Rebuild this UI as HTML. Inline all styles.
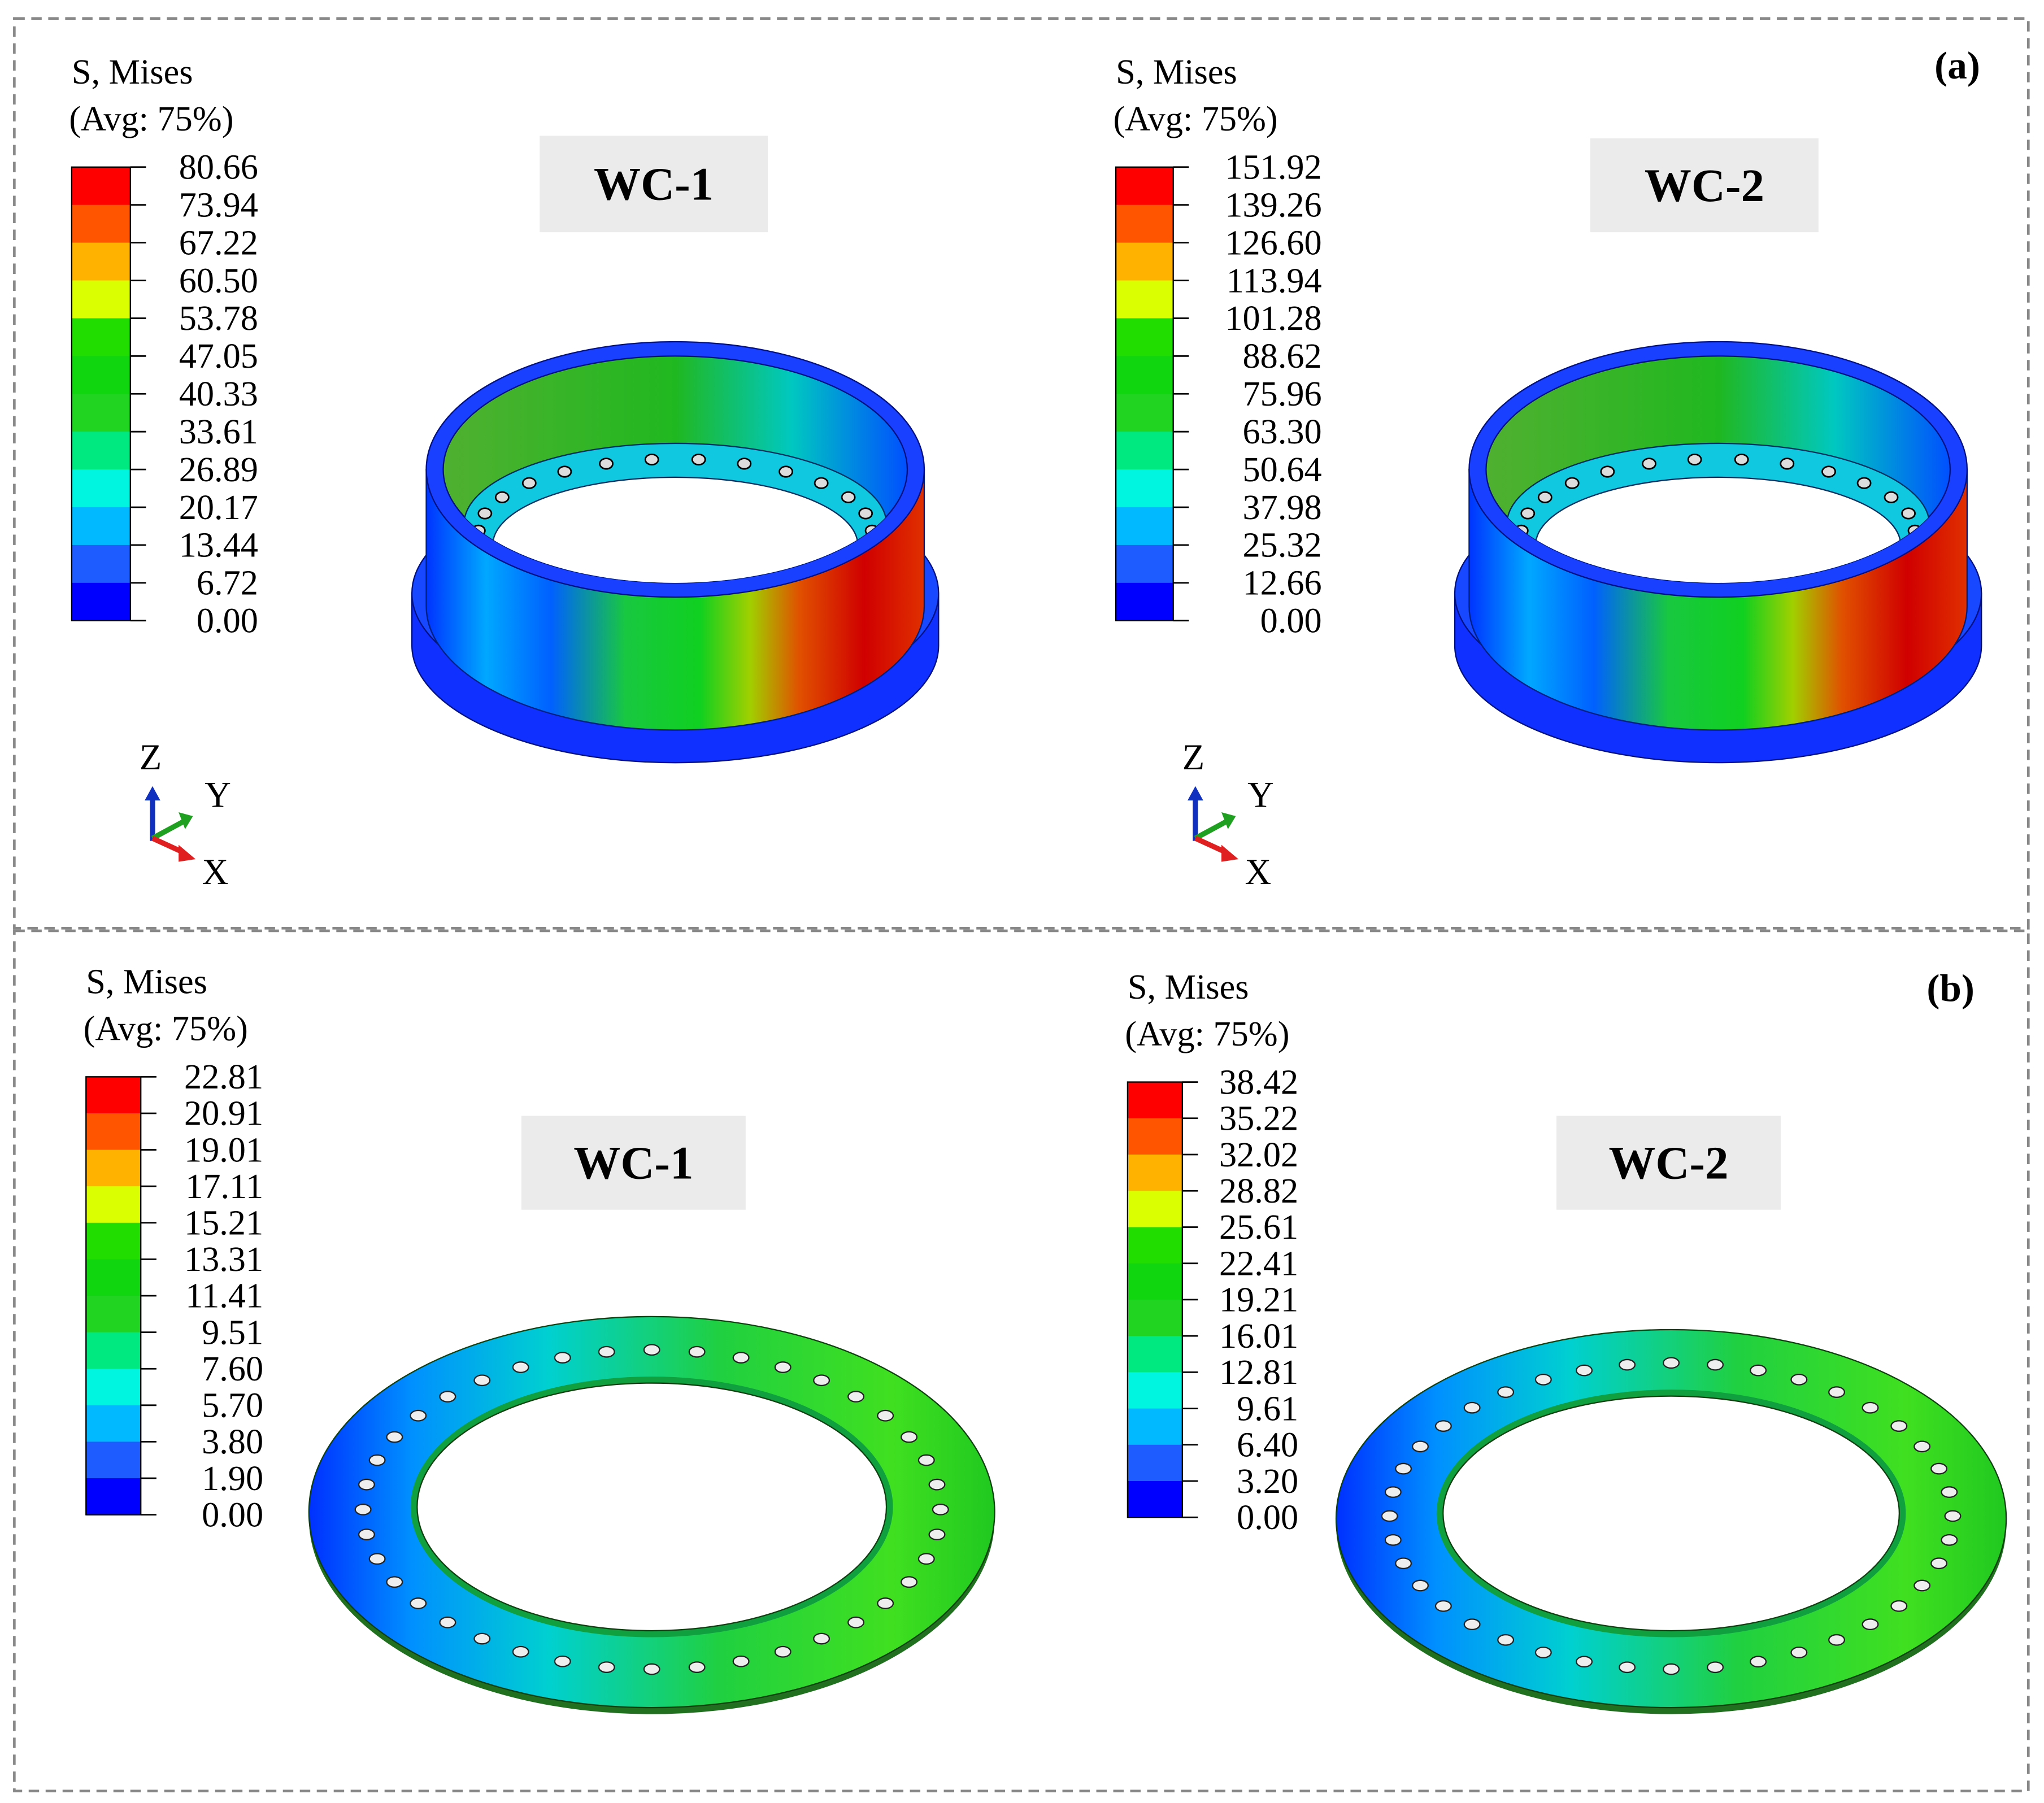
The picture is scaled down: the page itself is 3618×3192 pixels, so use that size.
<!DOCTYPE html>
<html><head><meta charset="utf-8"><style>
html,body{margin:0;padding:0;background:#fff}
svg{display:block}
text{font-family:"Liberation Serif",serif}
</style></head><body>
<svg id="fig" width="3618" height="3192" viewBox="0 0 1568 1383" xmlns="http://www.w3.org/2000/svg">
<defs>
<linearGradient id="cyl" x1="0" x2="1" y1="0" y2="0">
<stop offset="0" stop-color="#0033ff"/><stop offset="0.12" stop-color="#00a8ff"/><stop offset="0.25" stop-color="#0060ff"/><stop offset="0.4" stop-color="#18c840"/><stop offset="0.55" stop-color="#10d020"/><stop offset="0.65" stop-color="#a0d000"/><stop offset="0.75" stop-color="#e05000"/><stop offset="0.88" stop-color="#d00000"/><stop offset="1" stop-color="#e03000"/>
</linearGradient>
<linearGradient id="inner" x1="0" x2="1" y1="0" y2="0">
<stop offset="0" stop-color="#50b030"/><stop offset="0.5" stop-color="#20b820"/><stop offset="0.75" stop-color="#00c8c0"/><stop offset="1" stop-color="#0050ff"/>
</linearGradient>
<linearGradient id="plate" x1="0" x2="1" y1="0" y2="0">
<stop offset="0" stop-color="#0030ff"/><stop offset="0.15" stop-color="#0090ff"/><stop offset="0.35" stop-color="#00d0d0"/><stop offset="0.6" stop-color="#20d040"/><stop offset="0.85" stop-color="#40e020"/><stop offset="1" stop-color="#20c820"/>
</linearGradient>
<clipPath id="clip1"><ellipse cx="518" cy="360" rx="178" ry="87"/></clipPath>
<clipPath id="clip2"><ellipse cx="1318" cy="360" rx="178" ry="87"/></clipPath>
</defs>
<rect x="11" y="14" width="1545" height="698" fill="none" stroke="#888" stroke-width="2" stroke-dasharray="8,5"/>
<rect x="11" y="714" width="1545" height="660" fill="none" stroke="#888" stroke-width="2" stroke-dasharray="8,5"/>
<text x="1484" y="60" font-size="30" font-weight="bold">(a)</text>
<text x="1478" y="768" font-size="30" font-weight="bold">(b)</text>
<g id="legends"></g>
<g id="shapes"></g>
</svg>
<script>
const legendA1 = ["80.66","73.94","67.22","60.50","53.78","47.05","40.33","33.61","26.89","20.17","13.44","6.72","0.00"];
const legendA2 = ["151.92","139.26","126.60","113.94","101.28","88.62","75.96","63.30","50.64","37.98","25.32","12.66","0.00"];
const legendB1 = ["22.81","20.91","19.01","17.11","15.21","13.31","11.41","9.51","7.60","5.70","3.80","1.90","0.00"];
const legendB2 = ["38.42","35.22","32.02","28.82","25.61","22.41","19.21","16.01","12.81","9.61","6.40","3.20","0.00"];
const bandColors = ["#FF0000","#FF5500","#FFB300","#D9FF00","#22DD00","#10D610","#22D422","#00E880","#00F5E0","#00B9FF","#1E5CFF","#0000FF"];
const NS="http://www.w3.org/2000/svg";
function mk(tag,attrs,parent){const e=document.createElementNS(NS,tag);for(const k in attrs)e.setAttribute(k,attrs[k]);parent.appendChild(e);return e;}
const L=document.getElementById('legends');
function legend(vals,x,top,bottom,lx,tx,name){
  const g=mk('g',{},L);
  
  
  const t1=mk('text',{x:x,y:top-64,'font-size':27},g);t1.textContent="S, Mises";
  
  
  const t2=mk('text',{x:x-2,y:top-28,'font-size':27},g);t2.textContent="(Avg: 75%)";
  
  
  const n=vals.length-1, step=(bottom-top)/n;
  for(let i=0;i<n;i++){
    const r=mk('rect',{x:x,y:top+i*step,width:lx-x,height:step+0.5,fill:bandColors[i]},g);
    
    
  }
  mk('rect',{x:x,y:top,width:lx-x,height:bottom-top,fill:'none',stroke:'#000','stroke-width':1},g);
  for(let i=0;i<=n;i++){
    const y=top+i*step;
    mk('line',{x1:lx,x2:lx+12,y1:y,y2:y,stroke:'#000','stroke-width':1.2},g);
    const t=mk('text',{x:tx,y:y+9,'font-size':27,'text-anchor':'end'},g);t.textContent=vals[i];
    
    
  }
}
legend(legendA1,55,128,476,100,198,'legend-a-wc1');
legend(legendA2,856,128,476,900,1014,'legend-a-wc2');
legend(legendB1,66,826,1162,108,202,'legend-b-wc1');
legend(legendB2,865,830,1164,907,996,'legend-b-wc2');

const S=document.getElementById('shapes');
function label(txt,x,y,w,h,name){
  const r=mk('rect',{x:x,y:y,width:w,height:h,fill:'#ebebeb'},S);
  
  
  const t=mk('text',{x:x+w/2,y:y+h/2+12,'font-size':36,'font-weight':'bold','text-anchor':'middle'},S);t.textContent=txt;
  
  
}
label("WC-1",414,104,175,74,'wc1-label-a');
label("WC-2",1220,106,175,72,'wc2-label-a');
label("WC-1",400,856,172,72,'wc1-label-b');
label("WC-2",1194,856,172,72,'wc2-label-b');

function cylinder(cx,clip,name){
  const g=mk('g',{},S);
  
  
  mk('path',{d:`M${cx-202},${455} L${cx-202},${495} A202,90 0 0 0 ${cx+202},495 L${cx+202},455 Z`,fill:'#1030ff',stroke:'#001080','stroke-width':1},g);
  mk('ellipse',{cx:cx,cy:455,rx:202,ry:90,fill:'#1848ff',stroke:'#001080','stroke-width':1},g);
  mk('path',{d:`M${cx-191},360 L${cx-191},465 A191,95 0 0 0 ${cx+191},465 L${cx+191},360 Z`,fill:'url(#cyl)',stroke:'#002080','stroke-width':1},g);
  mk('ellipse',{cx:cx,cy:360,rx:191,ry:98,fill:'#1a40ff',stroke:'#001080','stroke-width':1},g);
  mk('ellipse',{cx:cx,cy:360,rx:178,ry:87,fill:'url(#inner)',stroke:'#001080','stroke-width':1},g);
  const c=mk('g',{'clip-path':`url(#${clip})`},g);
  mk('ellipse',{cx:cx,cy:402,rx:162,ry:62,fill:'#10c8e0',stroke:'#003060','stroke-width':1},c);
  mk('ellipse',{cx:cx,cy:418,rx:140,ry:52,fill:'#fff',stroke:'#003060','stroke-width':1},c);
  for(let i=0;i<16;i++){
    const a=Math.PI*0.93+ i/15*Math.PI*1.14;
    mk('ellipse',{cx:cx+151*Math.cos(a),cy:408+56*Math.sin(a),rx:5,ry:4,fill:'#ddd',stroke:'#000','stroke-width':1.2},c);
  }
}
cylinder(518,'clip1','wc1-cylinder-contour');
cylinder(1318,'clip2','wc2-cylinder-contour');

function plate(cx,cy,rx,ry,hrx,hry,name){
  const g=mk('g',{},S);
  
  
  mk('ellipse',{cx:cx,cy:cy+5,rx:rx,ry:ry,fill:'#207020'},g);
  mk('ellipse',{cx:cx,cy:cy,rx:rx,ry:ry,fill:'url(#plate)',stroke:'#104010','stroke-width':1},g);
  mk('ellipse',{cx:cx,cy:cy-4,rx:hrx+5,ry:hry+5,fill:'#10a040'},g);
  mk('ellipse',{cx:cx,cy:cy-4,rx:hrx,ry:hry,fill:'#fff',stroke:'#104010','stroke-width':1},g);
  const brx=(rx+hrx)/2, bry=(ry+hry)/2;
  for(let i=0;i<40;i++){
    const a=i/40*2*Math.PI;
    mk('ellipse',{cx:cx+brx*Math.cos(a),cy:cy-2+bry*Math.sin(a),rx:6,ry:4,fill:'#eee',stroke:'#222','stroke-width':1},g);
  }
}
plate(500,1160,263,150,180,95,'wc1-plate-contour');
plate(1282,1165,257,145,175,90,'wc2-plate-contour');

function triad(x,name){
  const g=mk('g',{},S);
  
  
  mk('line',{x1:x,y1:645,x2:x,y2:612,stroke:'#1030c0','stroke-width':4},g);
  mk('polygon',{points:`${x-6},614 ${x+6},614 ${x},603`,fill:'#1030c0'},g);
  mk('line',{x1:x,y1:643,x2:x+24,y2:630,stroke:'#20a020','stroke-width':4},g);
  mk('polygon',{points:`${x+20},623 ${x+31},626 ${x+25},636`,fill:'#20a020'},g);
  mk('line',{x1:x,y1:643,x2:x+24,y2:654,stroke:'#e02020','stroke-width':4},g);
  mk('polygon',{points:`${x+20},648 ${x+33},659 ${x+20},661`,fill:'#e02020'},g);
  const z=mk('text',{x:x-10,y:590,'font-size':28},g);z.textContent="Z";
  const y=mk('text',{x:x+40,y:619,'font-size':28},g);y.textContent="Y";
  const xx=mk('text',{x:x+38,y:678,'font-size':28},g);xx.textContent="X";
}
triad(117,'axis-triad-wc1');
triad(917,'axis-triad-wc2');
</script>
</body></html>
